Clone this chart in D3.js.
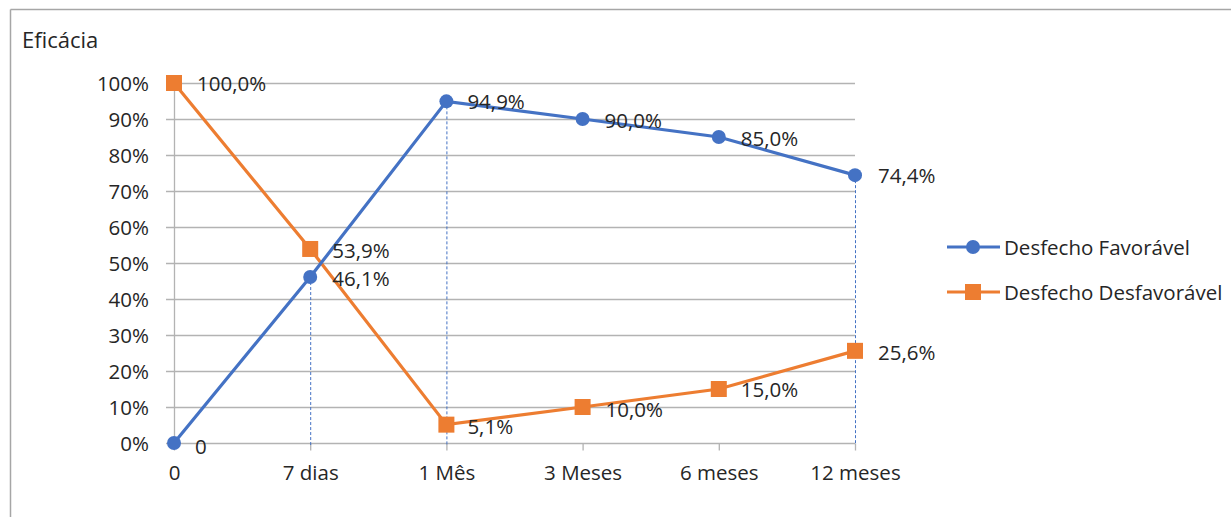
<!DOCTYPE html>
<html>
<head>
<meta charset="utf-8">
<script src="https://cdn.jsdelivr.net/npm/d3@7"></script>
<style>
  html, body { margin: 0; padding: 0; background: #fff; }
  svg { display: block; }
  text { font-family: "Open Sans", "Noto Sans", sans-serif; fill: #262626; }
</style>
</head>
<body>
<svg id="chart" width="1231" height="517"></svg>
<script>
// Follow-up periods
const categories = ["0", "7 dias", "1 Mês", "3 Meses", "6 meses", "12 meses"];
// Share of patients (%) per outcome
const favoravel = [0, 46.1, 94.9, 90.0, 85.0, 74.4];
const desfavoravel = [100.0, 53.9, 5.1, 10.0, 15.0, 25.6];
// Point labels as printed next to each marker
const favLabels = ["0", "46,1%", "94,9%", "90,0%", "85,0%", "74,4%"];
const desLabels = ["100,0%", "53,9%", "5,1%", "10,0%", "15,0%", "25,6%"];
const yTicks = [0, 10, 20, 30, 40, 50, 60, 70, 80, 90, 100];
const seriesNames = ["Desfecho Favorável", "Desfecho Desfavorável"];
// Points that carry a vertical drop line to the axis
const dropIdx = [1, 2, 5];

const BLUE = "#4472c4", ORANGE = "#ed7d31", GRID = "#b3b3b3";
const FS = 20.5;
const svg = d3.select("#chart");

// Chart frame
svg.append("line").attr("x1", 10.5).attr("x2", 1231).attr("y1", 9.5).attr("y2", 9.5)
  .attr("stroke", "#a6a6a6").attr("stroke-width", 1.5);
svg.append("line").attr("x1", 10.5).attr("x2", 10.5).attr("y1", 9.5).attr("y2", 517)
  .attr("stroke", "#a6a6a6").attr("stroke-width", 1.5);

svg.append("text").attr("x", 22).attr("y", 48).attr("font-size", 22).text("Eficácia");

const x = d3.scalePoint().domain(categories).range([174, 855]);
const y = d3.scaleLinear().domain([0, 100]).range([443, 83]);

// Horizontal gridlines
svg.append("g").selectAll("line").data(yTicks).join("line")
  .attr("x1", 166).attr("x2", 855)
  .attr("y1", d => y(d) + 0.5).attr("y2", d => y(d) + 0.5)
  .attr("stroke", GRID).attr("stroke-width", 1.3);

// Value axis line
svg.append("line").attr("x1", 174.5).attr("x2", 174.5).attr("y1", y(100)).attr("y2", y(0))
  .attr("stroke", GRID).attr("stroke-width", 1.3);

// Y tick labels
svg.append("g").selectAll("text").data(yTicks).join("text")
  .attr("x", 149).attr("y", d => y(d)).attr("text-anchor", "end")
  .attr("dominant-baseline", "central").attr("font-size", FS)
  .text(d => d + "%");

// Category axis with ticks
const xAxis = svg.append("g").attr("transform", `translate(0,${y(0) + 0.5})`)
  .call(d3.axisBottom(x).tickSize(7).tickPadding(15));
xAxis.select(".domain").remove();
xAxis.selectAll(".tick line").attr("stroke", GRID).attr("stroke-width", 1.3);
xAxis.selectAll(".tick text").attr("font-size", FS).attr("fill", "#262626")
  .attr("font-family", "'Open Sans', 'Noto Sans', sans-serif");

// Drop lines
svg.append("g").selectAll("line").data(dropIdx).join("line")
  .attr("x1", i => x(categories[i]) + 0.5).attr("x2", i => x(categories[i]) + 0.5)
  .attr("y1", i => y(favoravel[i])).attr("y2", y(0) + 2)
  .attr("stroke", BLUE).attr("stroke-width", 1).attr("stroke-dasharray", "3,2");

const line = d3.line().x((d, i) => x(categories[i])).y(d => y(d));

// Desfavorável series
svg.append("path").datum(desfavoravel).attr("d", line)
  .attr("fill", "none").attr("stroke", ORANGE).attr("stroke-width", 3.2);
// Favorável series
svg.append("path").datum(favoravel).attr("d", line)
  .attr("fill", "none").attr("stroke", BLUE).attr("stroke-width", 3.2);

svg.append("g").selectAll("rect").data(desfavoravel).join("rect")
  .attr("x", (d, i) => x(categories[i]) - 8).attr("y", d => y(d) - 8)
  .attr("width", 16).attr("height", 16).attr("fill", ORANGE);
svg.append("g").selectAll("circle").data(favoravel).join("circle")
  .attr("cx", (d, i) => x(categories[i])).attr("cy", d => y(d))
  .attr("r", 7).attr("fill", BLUE);

// Data labels
const favOffsets = [[21, 3], [22, 1], [21, 0], [22, 1], [22, 1], [23, 0]];
const desOffsets = [[23, 0], [22, 1], [21, 1], [23, 2], [22, 0], [23, 1]];
svg.append("g").selectAll("text").data(favoravel).join("text")
  .attr("x", (d, i) => x(categories[i]) + favOffsets[i][0])
  .attr("y", (d, i) => y(d) + favOffsets[i][1])
  .attr("dominant-baseline", "central").attr("font-size", FS)
  .text((d, i) => favLabels[i]);
svg.append("g").selectAll("text").data(desfavoravel).join("text")
  .attr("x", (d, i) => x(categories[i]) + desOffsets[i][0])
  .attr("y", (d, i) => y(d) + desOffsets[i][1])
  .attr("dominant-baseline", "central").attr("font-size", FS)
  .text((d, i) => desLabels[i]);

// Legend
const legend = svg.append("g");
const legendY = [247, 292];
const colors = [BLUE, ORANGE];
seriesNames.forEach((name, i) => {
  const g = legend.append("g").attr("transform", `translate(0,${legendY[i]})`);
  g.append("line").attr("x1", 947).attr("x2", 1000).attr("y1", 0).attr("y2", 0)
    .attr("stroke", colors[i]).attr("stroke-width", 3.2);
  if (i === 0) g.append("circle").attr("cx", 973).attr("cy", 0).attr("r", 7).attr("fill", BLUE);
  else g.append("rect").attr("x", 965).attr("y", -8).attr("width", 16).attr("height", 16).attr("fill", ORANGE);
  g.append("text").attr("x", 1004).attr("y", 0).attr("dominant-baseline", "central")
    .attr("font-size", FS).text(name);
});
</script>
</body>
</html>
